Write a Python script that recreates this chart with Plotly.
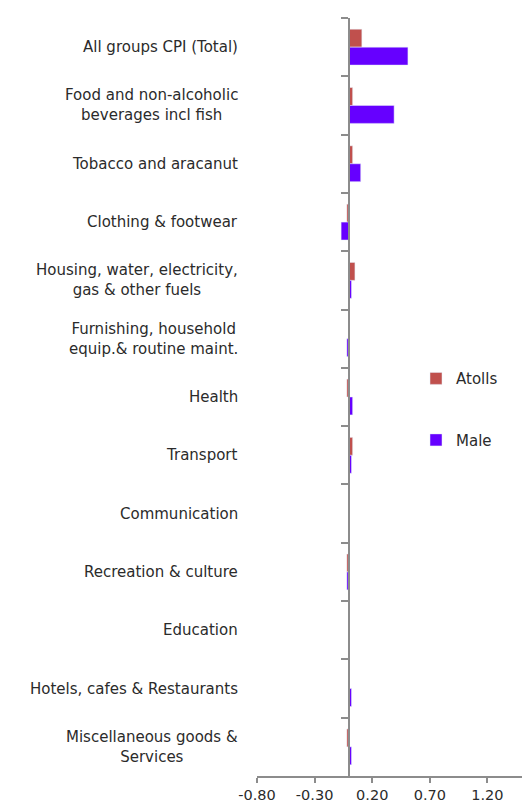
import plotly.graph_objects as go

categories = [
    "All groups CPI (Total)",
    "Food and non-alcoholic<br>beverages incl fish",
    "Tobacco and aracanut",
    "Clothing & footwear",
    "Housing, water, electricity,<br>gas & other fuels",
    "Furnishing, household<br>equip.& routine maint.",
    "Health",
    "Transport",
    "Communication",
    "Recreation & culture",
    "Education",
    "Hotels, cafes & Restaurants",
    "Miscellaneous goods &<br>Services",
]
atolls = [0.11, 0.03, 0.03, -0.02, 0.05, 0.00, -0.02, 0.03, 0.00, -0.02, 0.00, 0.00, -0.02]
male = [0.51, 0.39, 0.10, -0.07, 0.02, -0.02, 0.03, 0.02, 0.00, -0.02, 0.00, 0.02, 0.02]
x_ticks = [-0.8, -0.3, 0.2, 0.7, 1.2]

x_min, x_max = -0.8, 1.5
zero_pos = (0 - x_min) / (x_max - x_min)
label_font = dict(family="DejaVu Sans", size=15, color="#2b2b2b")
tick_font = dict(family="DejaVu Sans", size=14.5, color="#2b2b2b")

fig = go.Figure()
fig.add_trace(go.Bar(y=categories, x=atolls, orientation="h", name="Atolls",
                     marker_color="#C0504D", legendgroup="a"))
fig.add_trace(go.Bar(y=categories, x=male, orientation="h", name="Male",
                     marker_color="#6600FF", legendgroup="m"))

# Category names, centred line-by-line, to the left of the value axis
for cat in categories:
    fig.add_annotation(text=cat, xref="paper", x=zero_pos, xshift=-109,
                       xanchor="right", yref="y", y=cat, yanchor="middle",
                       align="center", showarrow=False, font=label_font)

fig.update_layout(
    width=525, height=805,
    margin=dict(l=257, r=3, t=18, b=29, autoexpand=False),
    paper_bgcolor="white", plot_bgcolor="white",
    barmode="group", bargap=0.385, bargroupgap=0,
    font=label_font,
    legend=dict(x=0.6, y=0.546, xanchor="left", yanchor="top",
                tracegroupgap=39, font=label_font,
                bgcolor="rgba(0,0,0,0)"),
    xaxis=dict(range=[x_min, x_max], tickvals=x_ticks,
               ticktext=[f"{v:.2f}" for v in x_ticks],
               showgrid=False, zeroline=False, automargin=False,
               showline=True, linecolor="#8c8c8c", linewidth=2,
               ticks="outside", ticklen=5, tickcolor="#8c8c8c", tickwidth=2,
               ticklabelstandoff=0, tickfont=tick_font),
    yaxis=dict(autorange="reversed", type="category",
               anchor="free", position=zero_pos, automargin=False,
               showgrid=False, zeroline=False, showticklabels=False,
               showline=True, linecolor="#8c8c8c", linewidth=2,
               ticks="outside", tickson="boundaries", ticklen=7,
               tickcolor="#8c8c8c", tickwidth=2),
)

fig.write_html("out.html")
